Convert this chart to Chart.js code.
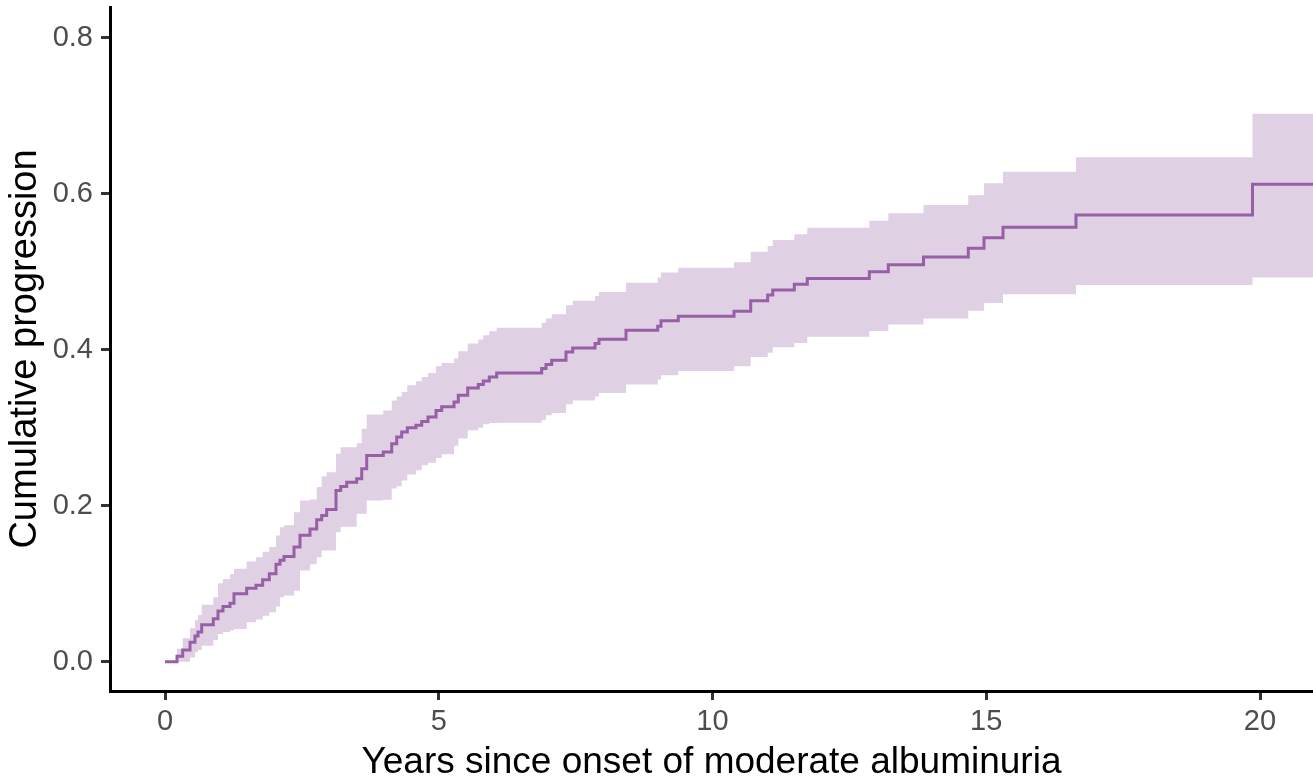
<!DOCTYPE html>
<html>
<head>
<meta charset="utf-8">
<script src="https://cdn.jsdelivr.net/npm/chart.js@4"></script>
<style>
  html, body { margin: 0; padding: 0; background: #fff; }
  #wrap { width: 1313px; height: 780px; }
</style>
</head>
<body>
<div id="wrap"><canvas id="km-chart" width="1313" height="780"></canvas></div>
<script>
// step times (years)
const years = [
    0, 0.219, 0.323, 0.457, 0.548, 0.603, 0.670, 0.882, 0.968, 1.059,
    1.187, 1.260, 1.492, 1.662, 1.784, 1.905, 2.027, 2.100, 2.174, 2.356,
    2.466, 2.648, 2.771, 2.862, 2.953, 3.123, 3.209, 3.319, 3.501, 3.593,
    3.684, 3.987, 4.141, 4.232, 4.323, 4.426, 4.584, 4.689, 4.804, 4.950,
    5.054, 5.279, 5.357, 5.529, 5.722, 5.814, 5.923, 6.058, 6.880, 6.959,
    7.063, 7.324, 7.447, 7.854, 7.927, 8.420, 8.999, 9.059, 9.375, 10.393,
    10.698, 11.008, 11.100, 11.494, 11.731, 12.864, 13.211, 13.854, 14.672, 14.959,
    15.306, 16.639, 19.863, 21.2
];

const progression = [
    0, 0.0068, 0.015, 0.025, 0.033, 0.038, 0.0475, 0.055, 0.065, 0.0706,
    0.075, 0.087, 0.094, 0.098, 0.105, 0.1126, 0.125, 0.130, 0.135, 0.147,
    0.162, 0.170, 0.182, 0.1875, 0.195, 0.2196, 0.2247, 0.230, 0.2346, 0.2474,
    0.2645, 0.2688, 0.2795, 0.288, 0.2945, 0.300, 0.303, 0.308, 0.3137, 0.322,
    0.327, 0.333, 0.3416, 0.351, 0.3553, 0.360, 0.365, 0.370, 0.3758, 0.381,
    0.3865, 0.397, 0.4023, 0.408, 0.4135, 0.425, 0.430, 0.437, 0.443, 0.4494,
    0.4627, 0.470, 0.4764, 0.484, 0.4914, 0.500, 0.509, 0.519, 0.530, 0.5436,
    0.557, 0.5727, 0.612, 0.612
];

const lowerCI = [
    0, 0, 0, 0.0055, 0.012, 0.015, 0.0205, 0.0278, 0.0355, 0.038,
    0.040, 0.042, 0.0505, 0.054, 0.059, 0.0633, 0.0706, 0.0826, 0.085, 0.091,
    0.1168, 0.125, 0.134, 0.1425, 0.1425, 0.166, 0.173, 0.173, 0.1897, 0.1897,
    0.2067, 0.2076, 0.222, 0.225, 0.2324, 0.240, 0.2453, 0.2517, 0.255, 0.261,
    0.2658, 0.277, 0.286, 0.2966, 0.300, 0.3043, 0.306, 0.3065, 0.310, 0.316,
    0.319, 0.330, 0.335, 0.340, 0.3445, 0.3553, 0.3617, 0.3673, 0.3728, 0.3788,
    0.3907, 0.396, 0.403, 0.4087, 0.4165, 0.424, 0.4323, 0.440, 0.450, 0.460,
    0.471, 0.4828, 0.4927, 0.4927
];

const upperCI = [
    0, 0.0167, 0.030, 0.043, 0.0535, 0.06, 0.073, 0.0826, 0.1006, 0.106,
    0.112, 0.119, 0.1284, 0.134, 0.141, 0.147, 0.1618, 0.1725, 0.175, 0.1917,
    0.2067, 0.208, 0.224, 0.2376, 0.243, 0.2667, 0.275, 0.275, 0.280, 0.2988,
    0.317, 0.322, 0.335, 0.340, 0.3458, 0.3544, 0.3595, 0.365, 0.370, 0.3788,
    0.383, 0.3887, 0.398, 0.408, 0.413, 0.4186, 0.4238, 0.428, 0.4344, 0.440,
    0.4456, 0.457, 0.4627, 0.4687, 0.474, 0.486, 0.4927, 0.499, 0.505, 0.512,
    0.5256, 0.533, 0.5406, 0.548, 0.5564, 0.5654, 0.575, 0.5856, 0.598, 0.6134,
    0.6283, 0.6468, 0.7024, 0.7024
];

const xTicks = [0, 5, 10, 15, 20];
const yTicks = [0, 0.2, 0.4, 0.6, 0.8];

const fontFamily = '"Liberation Sans", Arial, Helvetica, sans-serif';
const lineColor = '#965fa6';
const bandColor = '#dfd0e4';

function toPoints(values) {
    return years.map((t, i) => ({ x: t, y: values[i] }));
}

const ctx = document.getElementById('km-chart').getContext('2d');

new Chart(ctx, {
    type: 'line',
    data: {
        datasets: [
            {
                label: 'Cumulative progression',
                data: toPoints(progression),
                borderColor: lineColor,
                borderWidth: 3,
                pointRadius: 0,
                stepped: 'before',
                fill: false
            },
            {
                label: 'Upper CI',
                data: toPoints(upperCI),
                borderColor: 'transparent',
                borderWidth: 0,
                pointRadius: 0,
                stepped: 'before',
                backgroundColor: bandColor,
                fill: '+1'
            },
            {
                label: 'Lower CI',
                data: toPoints(lowerCI),
                borderColor: 'transparent',
                borderWidth: 0,
                pointRadius: 0,
                stepped: 'before',
                fill: false
            }
        ]
    },
    options: {
        responsive: false,
        animation: false,
        devicePixelRatio: 1,
        layout: { padding: { top: 7, right: 0, bottom: 0, left: 0 } },
        plugins: {
            legend: { display: false },
            tooltip: { enabled: false }
        },
        scales: {
            x: {
                type: 'linear',
                min: -1.0046,
                max: 20.968,
                afterBuildTicks: axis => { axis.ticks = xTicks.map(v => ({ value: v })); },
                afterFit: axis => {
                    axis.height = 89;
                    axis.paddingLeft = 0;
                    axis.paddingRight = 0;
                },
                grid: { drawOnChartArea: false, drawTicks: true, tickLength: 9, tickColor: '#333', tickWidth: 3 },
                border: { display: true, color: '#000', width: 3 },
                ticks: {
                    color: '#4d4d4d',
                    font: { family: fontFamily, size: 29 },
                    padding: 5,
                    maxRotation: 0,
                    callback: v => String(v)
                },
                title: {
                    display: true,
                    text: 'Years since onset of moderate albuminuria',
                    color: '#000',
                    font: { family: fontFamily, size: 37 },
                    padding: { top: 0, bottom: -5 }
                }
            },
            y: {
                type: 'linear',
                min: -0.0376,
                max: 0.8394,
                afterBuildTicks: axis => { axis.ticks = yTicks.map(v => ({ value: v })); },
                afterFit: axis => {
                    axis.width = 110;
                    axis.paddingTop = 0;
                    axis.paddingBottom = 0;
                },
                grid: { drawOnChartArea: false, drawTicks: true, tickLength: 9, tickColor: '#333', tickWidth: 3 },
                border: { display: true, color: '#000', width: 3 },
                ticks: {
                    color: '#4d4d4d',
                    font: { family: fontFamily, size: 29 },
                    padding: 8,
                    callback: v => v.toFixed(1)
                },
                title: {
                    display: true,
                    text: 'Cumulative progression',
                    color: '#000',
                    font: { family: fontFamily, size: 38 },
                    padding: { top: 3, bottom: 0 }
                }
            }
        }
    }
});
</script>
</body>
</html>
